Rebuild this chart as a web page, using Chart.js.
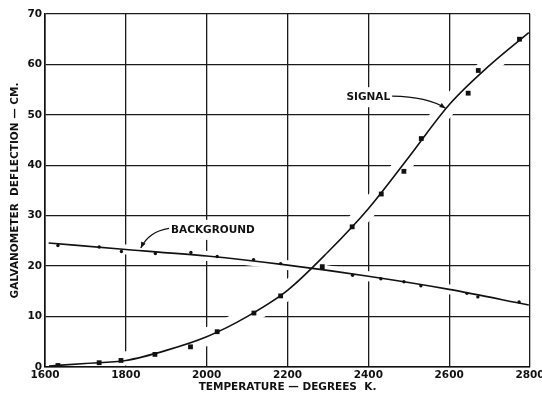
<!DOCTYPE html>
<html>
<head>
<meta charset="utf-8">
<script src="https://cdn.jsdelivr.net/npm/chart.js@4.4.1/dist/chart.umd.min.js"></script>
<style>
  html, body { margin: 0; padding: 0; background: #fff; }
  #wrap { width: 542px; height: 394px; }
</style>
</head>
<body>
<div id="wrap"><canvas id="c" width="542" height="394"></canvas></div>
<script>
// Measured points: galvanometer signal (squares) and background (dots)
const signalTemps = [1632, 1734, 1788, 1872, 1960, 2026, 2117, 2183, 2286, 2360, 2432, 2488, 2531, 2647, 2672, 2774];
const signalDefl  = [0.3, 0.85, 1.3, 2.5, 4.0, 7.0, 10.7, 14.1, 19.9, 27.8, 34.3, 38.8, 45.3, 54.3, 58.8, 65.0];

const backgroundTemps = [1632, 1734, 1789, 1873, 1961, 2026, 2116, 2183, 2361, 2431, 2488, 2530, 2644, 2671, 2773];
const backgroundDefl  = [24.1, 23.8, 22.9, 22.5, 22.7, 21.9, 21.3, 20.5, 18.2, 17.5, 16.9, 16.1, 14.6, 13.9, 12.9];

// Smooth curves drawn through each set
const signalCurveTemps = [1610, 1700, 1800, 1900, 2000, 2100, 2200, 2300, 2400, 2500, 2600, 2700, 2797];
const signalCurveDefl  = [0.2, 0.7, 1.3, 3.3, 6.0, 10.0, 15.2, 22.8, 31.4, 41.6, 52.0, 59.8, 66.3];

const backgroundCurveTemps = [1609, 1800, 2000, 2200, 2400, 2600, 2797];
const backgroundCurveDefl  = [24.6, 23.3, 22.0, 20.2, 18.0, 15.4, 12.3];

// Axis ranges and tick steps
const tempRange = [1600, 2800];
const tempStep = 200;
const deflRange = [0, 70];
const deflStep = 10;

// Curve labels with their leader arrows (data units)
const curveLabels = [
  { text: 'SIGNAL', at: [2454, 53.5], align: 'right',
    arrow: [[2459, 53.7], [2546, 53.6], [2591, 51.3]] },
  { text: 'BACKGROUND', at: [1912, 27.2], align: 'left',
    arrow: [[1907, 27.5], [1857, 26.9], [1837, 23.6]] }
];

const pts = (xs, ys) => xs.map((x, i) => ({ x, y: ys[i] }));
const INK = '#111';
const FONT = '"DejaVu Sans", sans-serif';
const TEXT_FONT = { family: FONT, size: 10.5, weight: 'bold' };
const LABEL_CSS = 'bold 10.5px ' + FONT;

// Grid lines are broken where a curve or a label crosses them:
// paint a white band along each curve (and behind each label) over the grid.
const gridBreaks = {
  id: 'gridBreaks',
  beforeDatasetsDraw(chart) {
    const { ctx, chartArea: a, scales: { x, y } } = chart;
    ctx.save();
    ctx.beginPath();
    ctx.rect(a.left + 1.5, a.top + 1.5, a.right - a.left - 3, a.bottom - a.top - 3);
    ctx.clip();
    ctx.strokeStyle = '#fff';
    ctx.lineCap = 'round';
    [[0, 18], [1, 10]].forEach(([idx, w]) => {
      const line = chart.getDatasetMeta(idx).dataset;
      line.updateControlPoints(a, 'x');
      ctx.lineWidth = w;
      ctx.beginPath();
      line.path(ctx);
      ctx.stroke();
    });
    ctx.font = LABEL_CSS;
    ctx.fillStyle = '#fff';
    curveLabels.forEach(l => {
      const w = ctx.measureText(l.text).width;
      const px = x.getPixelForValue(l.at[0]);
      const py = y.getPixelForValue(l.at[1]);
      const x0 = l.align === 'right' ? px - w : px;
      ctx.fillRect(x0 - 5, py - 10, w + 10, 20);
    });
    ctx.restore();
  }
};

const labelPlugin = {
  id: 'curveLabels',
  afterDatasetsDraw(chart) {
    const { ctx, scales: { x, y } } = chart;
    ctx.save();
    ctx.fillStyle = INK;
    ctx.strokeStyle = INK;
    ctx.font = LABEL_CSS;
    ctx.textBaseline = 'middle';
    curveLabels.forEach(l => {
      ctx.textAlign = l.align;
      ctx.fillText(l.text, x.getPixelForValue(l.at[0]), y.getPixelForValue(l.at[1]));
      const p = l.arrow.map(a => [x.getPixelForValue(a[0]), y.getPixelForValue(a[1])]);
      ctx.lineWidth = 1.2;
      ctx.beginPath();
      ctx.moveTo(p[0][0], p[0][1]);
      ctx.quadraticCurveTo(p[1][0], p[1][1], p[2][0], p[2][1]);
      ctx.stroke();
      // arrowhead along the final tangent
      const ang = Math.atan2(p[2][1] - p[1][1], p[2][0] - p[1][0]);
      const len = 6, half = 2.4;
      ctx.beginPath();
      ctx.moveTo(p[2][0], p[2][1]);
      ctx.lineTo(p[2][0] - len * Math.cos(ang) + half * Math.sin(ang),
                 p[2][1] - len * Math.sin(ang) - half * Math.cos(ang));
      ctx.lineTo(p[2][0] - len * Math.cos(ang) - half * Math.sin(ang),
                 p[2][1] - len * Math.sin(ang) + half * Math.cos(ang));
      ctx.closePath();
      ctx.fill();
    });
    ctx.restore();
  }
};

new Chart(document.getElementById('c'), {
  type: 'scatter',
  data: {
    datasets: [
      { data: pts(signalCurveTemps, signalCurveDefl), showLine: true, pointRadius: 0,
        borderColor: INK, borderWidth: 1.6, cubicInterpolationMode: 'monotone' },
      { data: pts(backgroundCurveTemps, backgroundCurveDefl), showLine: true, pointRadius: 0,
        borderColor: INK, borderWidth: 1.6, cubicInterpolationMode: 'monotone' },
      { data: pts(signalTemps, signalDefl), pointStyle: 'rect', pointRadius: 3.4,
        backgroundColor: INK, borderColor: INK, borderWidth: 0 },
      { data: pts(backgroundTemps, backgroundDefl), pointStyle: 'circle', pointRadius: 1.7,
        backgroundColor: INK, borderColor: INK, borderWidth: 0 }
    ]
  },
  options: {
    responsive: false,
    animation: false,
    events: [],
    layout: { autoPadding: false, padding: { top: 14, right: 12, bottom: 0, left: 0 } },
    plugins: { legend: { display: false }, tooltip: { enabled: false } },
    scales: {
      x: {
        type: 'linear', min: tempRange[0], max: tempRange[1],
        afterFit(s) { s.height = 27; s.paddingLeft = 0; s.paddingRight = 0; },
        ticks: { stepSize: tempStep, color: INK, padding: 2, maxRotation: 0,
                 callback: v => String(v), font: TEXT_FONT },
        grid: { color: '#1a1a1a', lineWidth: 1.3, drawTicks: false },
        border: { color: INK, width: 1.6 },
        title: { display: true, text: 'TEMPERATURE — DEGREES  K.', color: INK,
                 padding: { top: 0, bottom: 0 }, font: TEXT_FONT }
      },
      y: {
        type: 'linear', min: deflRange[0], max: deflRange[1],
        afterFit(s) { s.width = 45; },
        ticks: { stepSize: deflStep, color: INK, padding: 3,
                 callback: v => String(v), font: TEXT_FONT },
        grid: { color: '#1a1a1a', lineWidth: 1.3, drawTicks: false },
        border: { color: INK, width: 1.6 },
        title: { display: true, text: 'GALVANOMETER  DEFLECTION — CM.', color: INK,
                 padding: { top: 9, bottom: 0 }, font: TEXT_FONT }
      }
    }
  },
  plugins: [gridBreaks, labelPlugin]
});
</script>
</body>
</html>
